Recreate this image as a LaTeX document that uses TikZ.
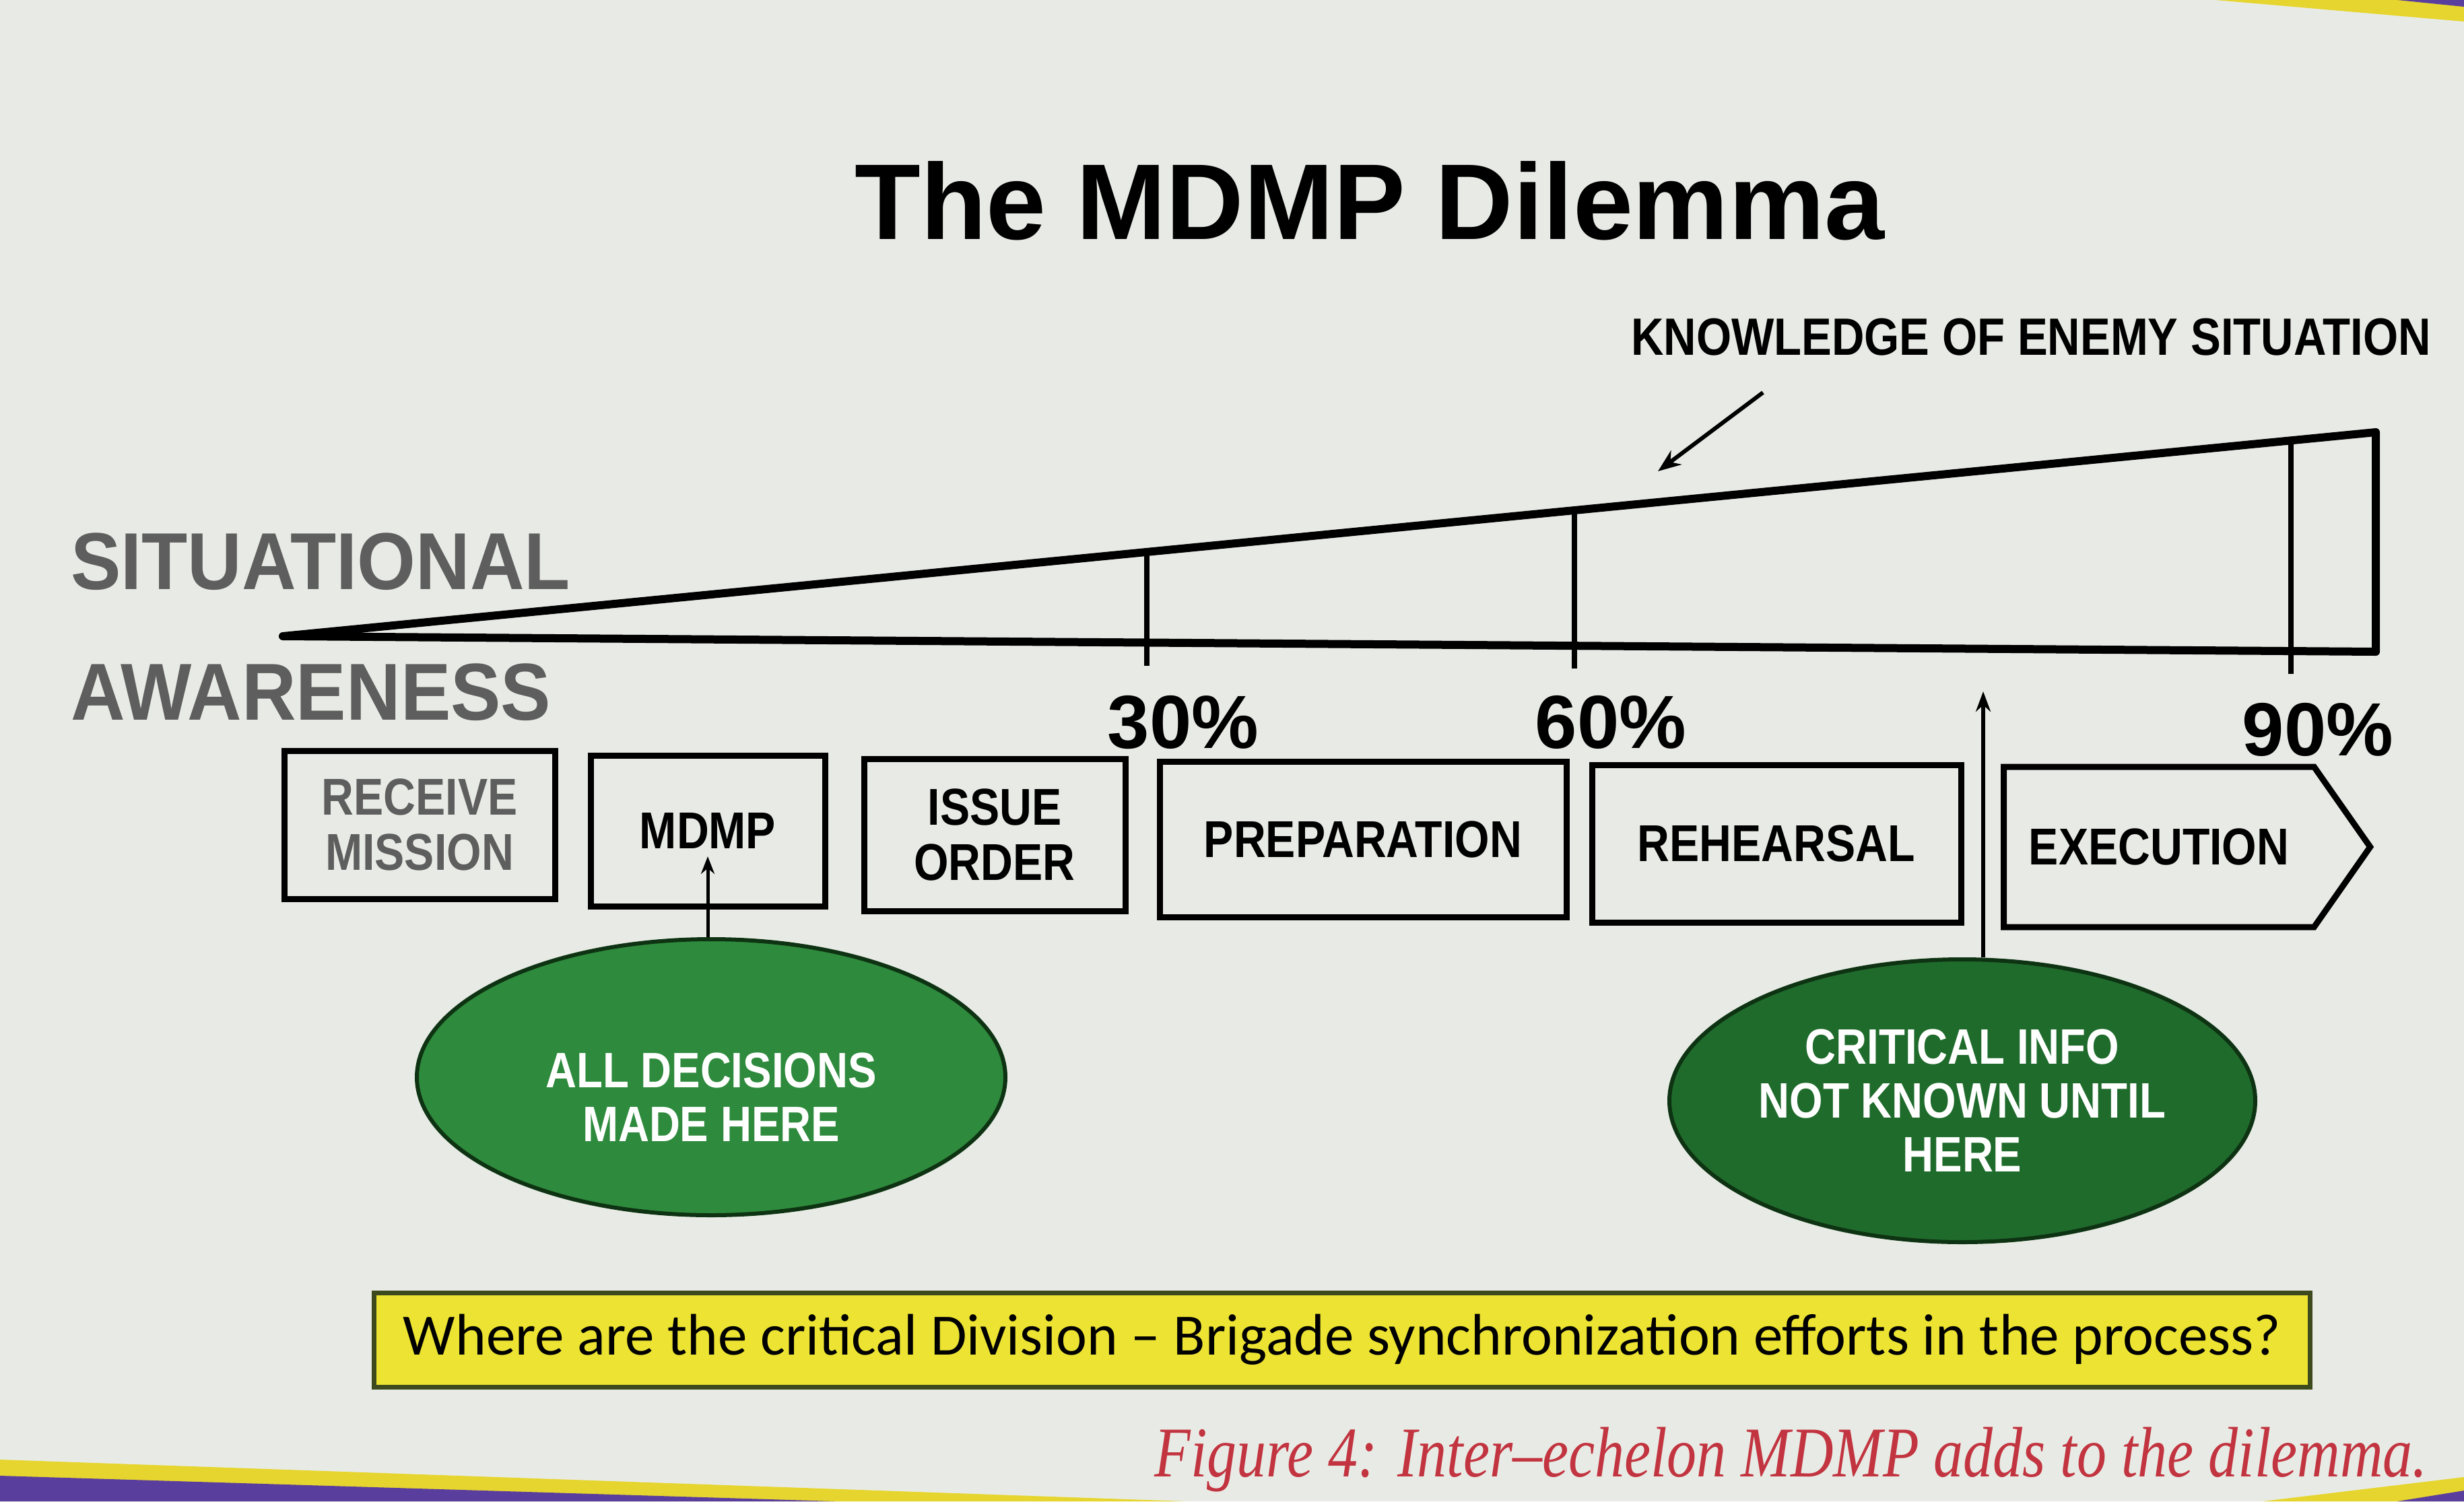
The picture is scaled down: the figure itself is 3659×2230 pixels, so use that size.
\documentclass[tikz,border=0pt]{standalone}
\usepackage{fontspec}
\setsansfont{Liberation Sans}
\newfontfamily\narrowsans[FakeStretch=0.86]{Liberation Sans}
\newfontfamily\axisfont[FakeStretch=0.93]{Liberation Sans}
\newfontfamily\notefont{Carlito}
\newfontfamily\capfont[FakeStretch=0.83]{Liberation Serif}
\usepackage{tikz}
\usetikzlibrary{shapes.geometric, shapes.symbols, arrows.meta, calc}

\definecolor{paper}{HTML}{E8EBE5}
\definecolor{inkgray}{HTML}{5E5E5E}
\definecolor{leafgreen}{HTML}{2E8A3C}
\definecolor{deepgreen}{HTML}{1F6B2C}
\definecolor{rimgreen}{HTML}{0E3313}
\definecolor{noteyellow}{HTML}{ECE332}
\definecolor{noterim}{HTML}{3C4A1E}
\definecolor{capred}{HTML}{C23440}
\definecolor{bandpurple}{HTML}{5A3E9E}
\definecolor{bandyellow}{HTML}{E6D52E}

\tikzset{
    phase/.style={draw, line width=9pt, minimum height=226pt, inner sep=0pt, align=center,
        font=\narrowsans\bfseries\fontsize{77}{82}\selectfont},
    decide/.style={ellipse, draw=rimgreen, fill=leafgreen, line width=6pt, inner sep=0pt,
        text=white, align=center, font=\narrowsans\bfseries\fontsize{74}{80}\selectfont},
    pct/.style={anchor=base, inner sep=0pt, font=\sffamily\bfseries\fontsize{112}{112}\selectfont},
    axislabel/.style={anchor=base west, inner sep=0pt, text=inkgray,
        font=\axisfont\bfseries\fontsize{120}{120}\selectfont},
    wedge/.style={line width=12pt, line join=round},
    tick/.style={line width=8pt}
}

\begin{document}
\begin{tikzpicture}[x=1pt, y=-1pt, >={Stealth[length=34pt, width=26pt]}]
    \useasboundingbox (0,0) rectangle (3659,2230);
    \fill[paper] (0,0) rectangle (3659,2230);
    % page edge
    \fill[bandyellow] (3290,0) -- (3659,0) -- (3659,32) -- cycle;
    \fill[bandpurple] (3560,0) -- (3659,0) -- (3659,10) -- cycle;
    \fill[bandyellow] (0,2168) -- (1760,2230) -- (0,2230) -- cycle;
    \fill[bandpurple] (0,2192) -- (1240,2230) -- (0,2230) -- cycle;
    \fill[bandyellow] (3360,2230) -- (3659,2194) -- (3659,2230) -- cycle;
    \fill[bandpurple] (3560,2230) -- (3659,2214) -- (3659,2230) -- cycle;

    \node[anchor=base, inner sep=0pt, font=\sffamily\bfseries\fontsize{160}{160}\selectfont] (title) at (2034,355) {The MDMP Dilemma};

    % awareness wedge
    \coordinate (apex) at (420,945);
    \coordinate (topR) at (3528,642);
    \coordinate (botR) at (3528,968);
    \draw[wedge] (botR) -- (apex) -- (topR) -- cycle;
    \foreach \t in {0.4128, 0.6171, 0.9595}
        \draw[tick] ($(apex)!\t!(topR)$) -- ($(apex)!\t!(botR)$) -- ++(0,34);
    \node[axislabel] (sit) at (105,875) {SITUATIONAL};
    \node[axislabel] (aware) at (105,1069) {AWARENESS};
    \node[pct] (p30) at (1757,1111) {30\%};
    \node[pct] (p60) at (2392,1111) {60\%};
    \node[pct] (p90) at (3442,1122) {90\%};

    % enemy knowledge
    \node[anchor=base west, inner sep=0pt, font=\narrowsans\bfseries\fontsize{78}{78}\selectfont] (know) at (2422,527) {KNOWLEDGE OF ENEMY SITUATION};
    \coordinate (kstart) at (2618,583);
    \coordinate (kend) at (2462,700);
    \draw[->, line width=6pt] (kstart) -- (kend);

    % phases
    \node[phase, minimum width=402pt, minimum height=220pt, text=inkgray] (recv) at (623,1225) {RECEIVE\\MISSION};
    \node[phase, minimum width=348pt, minimum height=224pt] (mdmp) at (1051,1234) {MDMP};
    \node[phase, minimum width=388pt] (issue) at (1477,1240) {ISSUE\\ORDER};
    \node[phase, minimum width=604pt, minimum height=231pt] (prep) at (2024,1247) {PREPARATION};
    \node[phase, minimum width=548pt, minimum height=234pt] (reh) at (2638,1253) {REHEARSAL};
    \node[phase, signal, signal to=east, signal pointer angle=110, minimum width=544pt, minimum height=238pt] (exec) at (3206,1258) {EXECUTION};

    % decisions vs information
    \node[decide, minimum width=874pt, minimum height=410pt] (alldec) at (1056,1600) {\rule{0pt}{110pt}ALL DECISIONS\\MADE HERE};
    \node[decide, fill=deepgreen, minimum width=870pt, minimum height=420pt] (crit) at (2914,1635) {CRITICAL INFO\\NOT KNOWN UNTIL\\HERE};
    \coordinate (mdmpin) at (1051,1272);
    \draw[->, line width=5pt, >={Stealth[length=26pt, width=20pt]}] (mdmpin |- alldec.north) -- (mdmpin);
    \coordinate (critup) at (2945,1027);
    \draw[->, line width=6pt, >={Stealth[length=30pt, width=22pt]}] (critup |- crit.north) -- (critup);

    % question and caption
    \node[draw=noterim, fill=noteyellow, line width=7pt, minimum width=2875pt, minimum height=140pt, inner sep=0pt,
        font=\notefont\fontsize{87}{87}\selectfont] (note) at (1993,1990) {Where are the critical Division – Brigade synchronization efforts in the process?};
    \node[anchor=base east, inner sep=0pt, text=capred, font=\capfont\itshape\fontsize{106}{106}\selectfont] (cap) at (3605,2193) {Figure 4: Inter–echelon MDMP adds to the dilemma.};
\end{tikzpicture}
\end{document}
